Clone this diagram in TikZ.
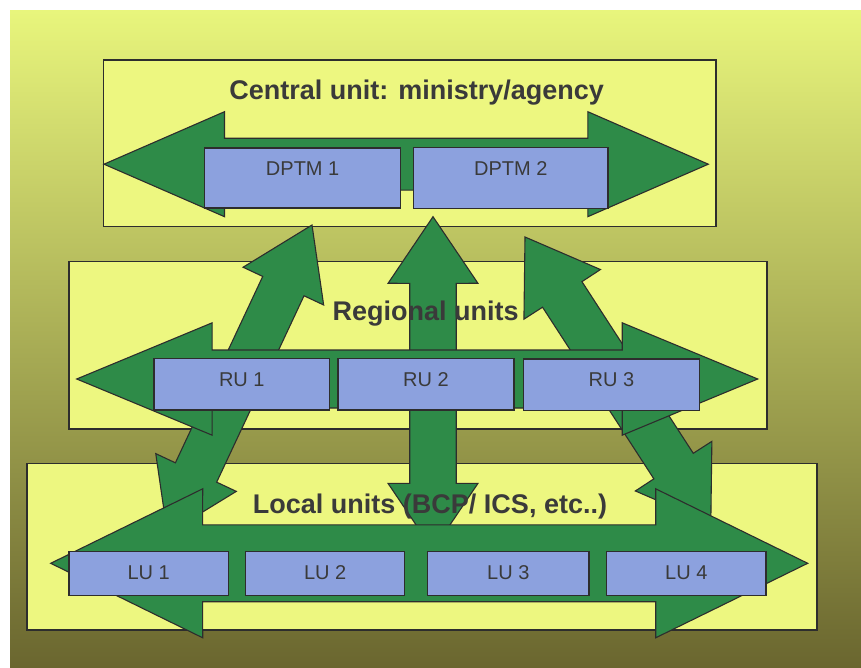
\documentclass[tikz,border=0pt]{standalone}
\usepackage{fontspec}
\setmainfont{Liberation Sans}
\usetikzlibrary{calc}
\definecolor{bgtop}{RGB}{232,245,124}
\definecolor{bgmid}{RGB}{186,193,86}
\definecolor{bgbot}{RGB}{106,102,47}
\definecolor{lvl}{RGB}{237,247,128}
\definecolor{grn}{RGB}{46,139,72}
\definecolor{blu}{RGB}{140,161,222}
\definecolor{ink}{RGB}{58,58,58}
\definecolor{edgec}{RGB}{45,45,45}
% double-headed block arrow between two named coordinates: A, B, head length, head half-width, shaft half-width
\newcommand{\dblarrow}[5]{%
  \pgfmathsetmacro{\dA}{veclen(#3,#4)}%
  \pgfmathsetmacro{\aA}{atan(#4/#3)}%
  \pgfmathsetmacro{\dB}{veclen(#3,#5)}%
  \pgfmathsetmacro{\aB}{atan(#5/#3)}%
  \filldraw[blockarrow] (#1) -- ($(#1)!\dA pt!\aA:(#2)$) -- ($(#1)!\dB pt!\aB:(#2)$)
    -- ($(#2)!\dB pt!-\aB:(#1)$) -- ($(#2)!\dA pt!-\aA:(#1)$) -- (#2)
    -- ($(#2)!\dA pt!\aA:(#1)$) -- ($(#2)!\dB pt!\aB:(#1)$)
    -- ($(#1)!\dB pt!-\aB:(#2)$) -- ($(#1)!\dA pt!-\aA:(#2)$) -- cycle;}
\begin{document}
\begin{tikzpicture}[x=1pt,y=-1pt,
  levelbox/.style={draw=edgec, line width=1.5pt, fill=lvl, inner sep=0pt, anchor=north west},
  unitbox/.style={draw=edgec, line width=1.3pt, fill=blu, inner sep=0pt, anchor=north west,
    text=ink, font=\fontsize{20}{22}\selectfont, text height=28pt},
  title/.style={text=ink, font=\fontsize{27}{30}\selectfont\bfseries, anchor=base, inner sep=0pt},
  blockarrow/.style={fill=grn, draw=edgec, line width=1.1pt, line join=miter}]
\useasboundingbox (0,0) rectangle (861,668);
\fill[white] (0,0) rectangle (861,668);
\shade[top color=bgtop, middle color=bgmid, bottom color=bgbot] (10,11) rectangle (861,668);

% level boxes
\node[levelbox, minimum width=612.3pt, minimum height=166.7pt] (central) at (102.7,59.3) {};
\node[levelbox, minimum width=698pt, minimum height=167.3pt] (regional) at (68,260.7) {};
\node[levelbox, minimum width=790pt, minimum height=166.3pt] (local) at (26,462.7) {};

% arrow end points
\coordinate (v1) at (433,216.7);   \coordinate (v2) at (433,550);
\coordinate (d1) at (312,225);     \coordinate (d2) at (167.4,533.6);
\coordinate (e1) at (525,237);     \coordinate (e2) at (710.8,523.5);
\coordinate (c1) at (104,164.2);   \coordinate (c2) at (708.3,164.2);
\coordinate (r1) at (76.7,379);    \coordinate (r2) at (757.7,379);
\coordinate (l1) at (50.7,563.3);  \coordinate (l2) at (807.7,563.3);

% links between levels
\dblarrow{d1}{d2}{67.5}{44.5}{22.8}
\dblarrow{e1}{e2}{68.5}{45.7}{23.5}
\dblarrow{v1}{v2}{66.7}{45}{23.3}
% links within levels
\dblarrow{c1}{c2}{120.5}{52.5}{26}
\dblarrow{r1}{r2}{135.5}{56.2}{29}
\dblarrow{l1}{l2}{152}{74.5}{38.5}

% unit boxes
\node[unitbox, minimum width=196pt, text depth=32.2pt] (dptm1) at (204,147.3) {DPTM 1};
\node[unitbox, minimum width=194.3pt, text depth=33pt] (dptm2) at (413,147) {DPTM 2};
\node[unitbox, minimum width=175.7pt, text depth=23.6pt] (ru1) at (153.3,357.7) {RU 1};
\node[unitbox, minimum width=176pt, text depth=23.6pt] (ru2) at (337.3,357.7) {RU 2};
\node[unitbox, minimum width=176.3pt, text depth=23.6pt] (ru3) at (522.7,358.3) {RU 3};
\node[unitbox, minimum width=159.4pt, text depth=15.5pt] (lu1) at (68.3,551) {LU 1};
\node[unitbox, minimum width=159pt, text depth=15.5pt] (lu2) at (245,551) {LU 2};
\node[unitbox, minimum width=161.3pt, text depth=15.5pt] (lu3) at (427,551) {LU 3};
\node[unitbox, minimum width=159.3pt, text depth=15.5pt] (lu4) at (606,551) {LU 4};

% level titles
\node[title] (tcentral) at (416.7,99.3) {Central unit: ministry/agency};
\node[title] (tregional) at (425.7,320) {Regional units};
\node[title] (tlocal) at (430,513.3) {Local units (BCP/ ICS, etc..)};
\end{tikzpicture}
\end{document}
